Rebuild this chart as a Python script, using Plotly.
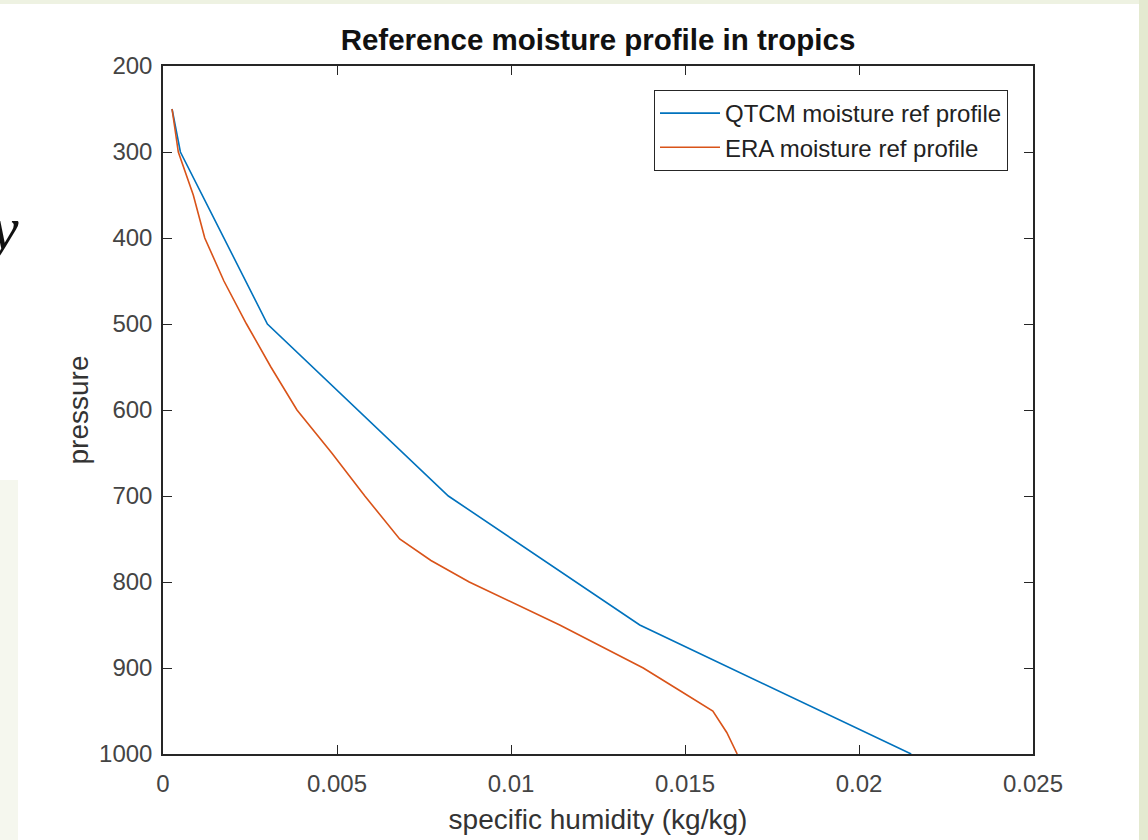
import plotly.graph_objects as go

# QTCM reference profile
qtcm_p = [250, 300, 500, 700, 850, 1000]
qtcm_q = [0.00026, 0.0005, 0.0030, 0.0082, 0.0137, 0.0215]

# ERA reference profile
era_p = [250, 300, 350, 400, 450, 500, 550, 600, 650, 700, 750, 775, 800,
         825, 850, 875, 900, 925, 950, 975, 1000]
era_q = [0.00026, 0.00044, 0.00087, 0.0012, 0.00175, 0.0024, 0.0031, 0.00385,
         0.00485, 0.0058, 0.0068, 0.0077, 0.0088, 0.0101, 0.0114, 0.0126,
         0.0138, 0.0148, 0.0158, 0.0162, 0.0165]

x_ticks = [0, 0.005, 0.01, 0.015, 0.02, 0.025]
x_ticklabels = ["0", "0.005", "0.01", "0.015", "0.02", "0.025"]
y_ticks = [200, 300, 400, 500, 600, 700, 800, 900, 1000]

W, H = 1148, 840
L, R, T, B = 163, 1033, 66, 754

fig = go.Figure()
fig.add_trace(go.Scatter(x=qtcm_q, y=qtcm_p, mode="lines",
                         name="QTCM moisture ref profile",
                         line=dict(color="#0072BD", width=1.6)))
fig.add_trace(go.Scatter(x=era_q, y=era_p, mode="lines",
                         name="ERA moisture ref profile",
                         line=dict(color="#D95319", width=1.6)))

axis_common = dict(showline=True, linecolor="#262626", linewidth=1.5,
                   mirror="ticks", ticks="inside", ticklen=9, tickwidth=1.2,
                   tickcolor="#262626", showgrid=False, zeroline=False,
                   automargin=False,
                   tickfont=dict(family="Liberation Sans, Arial", size=24, color="#444444"))

fig.update_xaxes(range=[0, 0.025], tickvals=x_ticks, ticktext=x_ticklabels,
                 title=dict(text="specific humidity (kg/kg)",
                            font=dict(family="Liberation Sans, Arial", size=28, color="#333333"),
                            standoff=14),
                 ticklabelstandoff=7, **axis_common)
fig.update_yaxes(range=[1000, 200], tickvals=y_ticks,
                 title=dict(text="pressure",
                            font=dict(family="Liberation Sans, Arial", size=28, color="#333333"),
                            standoff=2),
                 ticklabelstandoff=4, **axis_common)

fig.update_layout(
    width=W, height=H,
    margin=dict(l=L, r=W - R, t=T, b=H - B, pad=0),
    paper_bgcolor="white", plot_bgcolor="white",
    title=dict(text="<b>Reference moisture profile in tropics</b>",
               x=(L + R) / 2 / W, xanchor="center", y=1 - 40 / H, yanchor="middle",
               font=dict(family="Liberation Sans, Arial", size=29.5, color="#111111")),
    legend=dict(x=(1008 - L) / (R - L), xanchor="right",
                y=1 - (90 - T) / (B - T), yanchor="top",
                bgcolor="white", bordercolor="#262626", borderwidth=1,
                font=dict(family="Liberation Sans, Arial", size=24, color="#222222"),
                tracegroupgap=0, itemwidth=60),
    showlegend=True,
)

# light green page edges of the screenshot
fig.add_shape(type="rect", xref="paper", yref="paper",
              x0=(1139 - L) / (R - L), x1=(W - L) / (R - L) + 0.01,
              y0=-(H - B) / (B - T) - 0.01, y1=1 + T / (B - T) + 0.01,
              fillcolor="#E4EAD0", line=dict(width=0), layer="below")
fig.add_shape(type="rect", xref="paper", yref="paper",
              x0=-L / (R - L) - 0.01, x1=(1139 - L) / (R - L),
              y0=1 + (T - 4) / (B - T), y1=1 + T / (B - T) + 0.01,
              fillcolor="#EEF2E2", line=dict(width=0), layer="below")
fig.add_shape(type="rect", xref="paper", yref="paper",
              x0=-L / (R - L) - 0.01, x1=(18 - L) / (R - L),
              y0=-(H - B) / (B - T) - 0.01, y1=1 - (480 - T) / (B - T),
              fillcolor="#F5F7EE", line=dict(width=0), layer="below")

# stray italic letter at the left edge of the screenshot
fig.add_annotation(text="<i>y</i>", xref="paper", yref="paper",
                   x=(21 - L) / (R - L), xanchor="right",
                   y=1 - (228 - T) / (B - T), yanchor="middle",
                   showarrow=False,
                   font=dict(family="Liberation Serif, Times New Roman", size=62, color="#111111"))

fig.write_html("out.html")
